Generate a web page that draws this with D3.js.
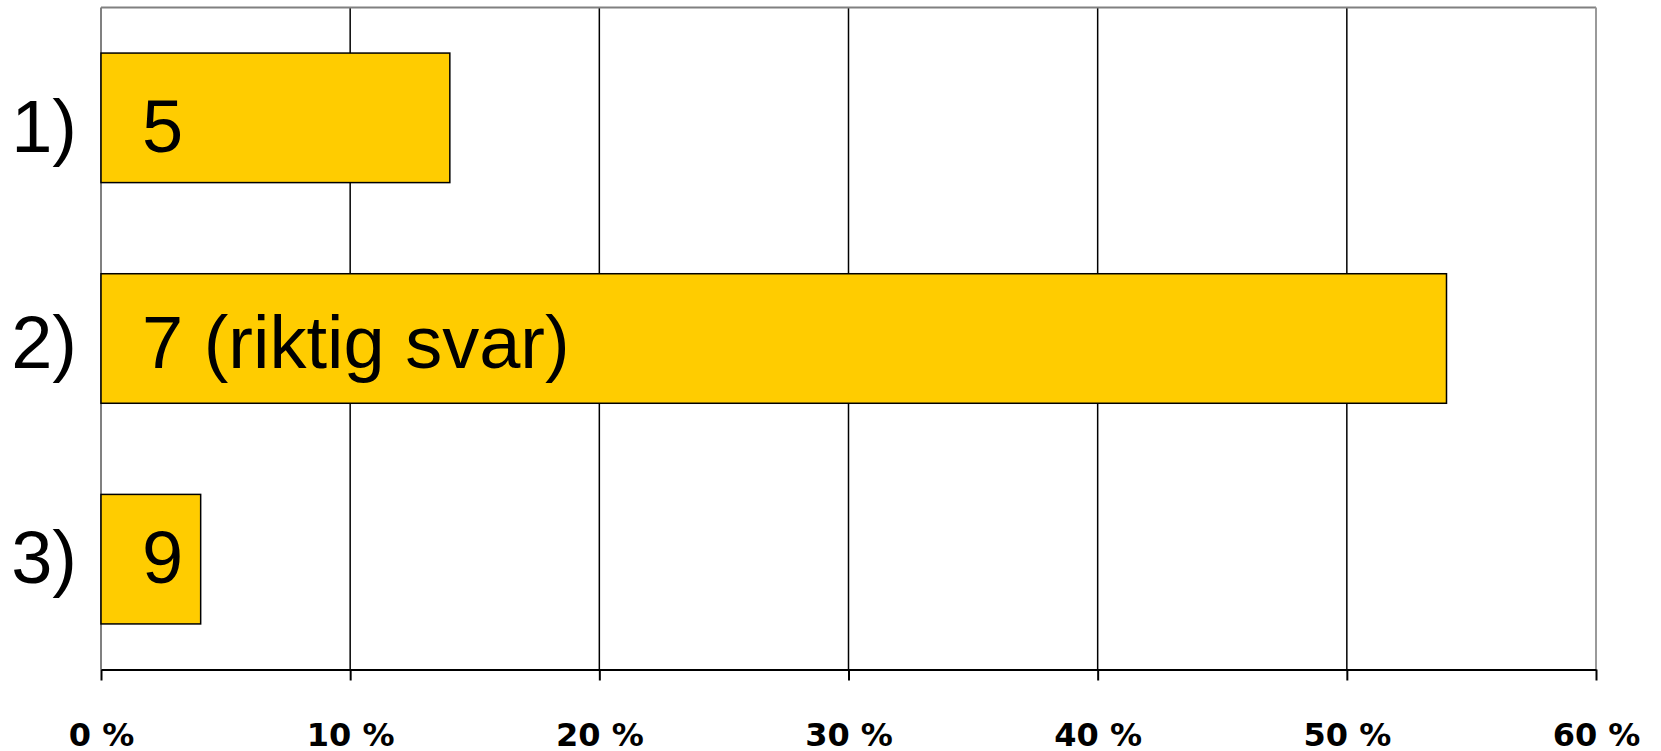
<!DOCTYPE html>
<html>
<head>
<meta charset="utf-8">
<script src="https://cdn.jsdelivr.net/npm/d3@7"></script>
<style>
  html, body { margin: 0; padding: 0; background: #ffffff; }
  svg { display: block; }
</style>
</head>
<body>
<svg id="chart" width="1661" height="751"></svg>
<script>
// ---- data ----
const categories = ["1)", "2)", "3)"];
const values = [14, 54, 4];                 // percent
const barLabels = ["5", "7 (riktig svar)", "9"];
const tickValues = [0, 10, 20, 30, 40, 50, 60];
const tickLabels = ["0 %", "10 %", "20 %", "30 %", "40 %", "50 %", "60 %"];

(function () {
  // ---- layout ----
  const svg = d3.select("#chart");
  const pLeft = 101, pRight = 1596, pTop = 7.5, pBottom = 669.5;

  const x = d3.scaleLinear().domain([0, 60]).range([pLeft, pRight]);
  const y = d3.scaleBand().domain(categories).range([pTop, pBottom])
    .paddingInner(0.413).paddingOuter(0.2065);
  // text baselines (labels sit on their own, slightly tighter rhythm)
  const yText = d3.scalePoint().domain(categories).range([151.7, 583.4]);

  // gridlines
  svg.append("g").selectAll("line")
    .data(tickValues.filter(v => v > 0 && v < 60))
    .join("line")
    .attr("x1", d => x(d)).attr("x2", d => x(d))
    .attr("y1", pTop).attr("y2", pBottom)
    .attr("stroke", "#000").attr("stroke-width", 1.5);

  // plot frame (gray): top, left, right
  svg.append("line").attr("x1", x(0)).attr("x2", x(60)).attr("y1", pTop).attr("y2", pTop)
    .attr("stroke", "#808080").attr("stroke-width", 2);
  svg.append("line").attr("x1", x(0)).attr("x2", x(0)).attr("y1", pTop).attr("y2", pBottom)
    .attr("stroke", "#808080").attr("stroke-width", 2);
  svg.append("line").attr("x1", x(60)).attr("x2", x(60)).attr("y1", pTop).attr("y2", pBottom)
    .attr("stroke", "#9a9a9a").attr("stroke-width", 2);

  // bars
  const rows = categories.map((c, i) => ({ cat: c, value: values[i], label: barLabels[i] }));
  svg.append("g").selectAll("rect")
    .data(rows)
    .join("rect")
    .attr("x", x(0))
    .attr("y", d => y(d.cat))
    .attr("width", d => x(d.value) - x(0))
    .attr("height", y.bandwidth())
    .attr("fill", "#FFCC00")
    .attr("stroke", "#000")
    .attr("stroke-width", 1.5);

  // bar labels
  svg.append("g").selectAll("text")
    .data(rows)
    .join("text")
    .attr("x", 142)
    .attr("y", d => yText(d.cat))
    .attr("font-family", "'Liberation Sans', Arial, sans-serif")
    .attr("font-size", 74)
    .attr("fill", "#000")
    .text(d => d.label);

  // category labels
  svg.append("g").selectAll("text")
    .data(categories)
    .join("text")
    .attr("x", 77)
    .attr("y", d => yText(d))
    .attr("text-anchor", "end")
    .attr("font-family", "'Liberation Sans', Arial, sans-serif")
    .attr("font-size", 74)
    .attr("fill", "#000")
    .text(d => d);

  // bottom axis
  const xAxis = d3.axisBottom(x)
    .tickValues(tickValues)
    .tickFormat((d, i) => tickLabels[i])
    .tickSize(11)
    .tickSizeOuter(0);
  const ax = svg.append("g")
    .attr("transform", `translate(0,${pBottom})`)
    .call(xAxis);
  ax.select(".domain").attr("stroke", "#000").attr("stroke-width", 2);
  ax.selectAll(".tick line").attr("stroke", "#000").attr("stroke-width", 2);
  ax.selectAll(".tick text")
    .attr("y", 76.5).attr("dy", 0)
    .attr("font-family", "'DejaVu Sans', sans-serif")
    .attr("font-weight", "bold")
    .attr("font-size", 32)
    .attr("fill", "#000");
})();
</script>
</body>
</html>
